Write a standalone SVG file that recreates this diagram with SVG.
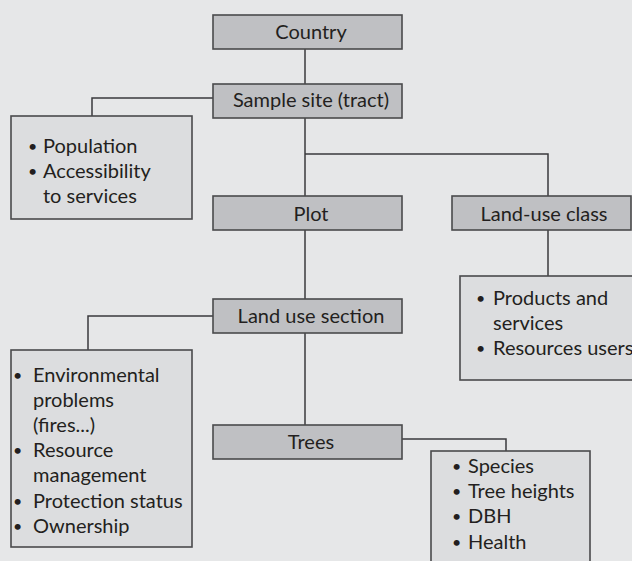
<svg xmlns="http://www.w3.org/2000/svg" width="632" height="561" viewBox="0 0 632 561">
<style>
.bg{fill:#e6e7e8}
.hd{fill:#bfc0c3;stroke:#4a4a4c;stroke-width:1.6}
.bx{fill:#dcdddf;stroke:#4a4a4c;stroke-width:1.6}
.ln{fill:none;stroke:#3a3a3c;stroke-width:1.5}
text{font-family:"Lato","Open Sans","Liberation Sans",sans-serif;font-size:20px;fill:#231f20}
.c{text-anchor:middle}
.b{font-size:16px}
</style>
<rect class="bg" x="0" y="0" width="632" height="561"/>
<g id="connectors">
<path class="ln" d="M305,49V84"/>
<path class="ln" d="M305,118V196"/>
<path class="ln" d="M305,154H548V196"/>
<path class="ln" d="M213,98H92V116"/>
<path class="ln" d="M548,230V276"/>
<path class="ln" d="M305,230V299"/>
<path class="ln" d="M213,316H88V350"/>
<path class="ln" d="M305,333V425"/>
<path class="ln" d="M402,439H506V451"/>
</g>
<g id="country"><rect class="hd" x="213" y="15" width="189" height="34"/><text class="c" x="311" y="39">Country</text></g>
<g id="sample-site"><rect class="hd" x="213" y="84" width="189" height="34"/><text class="c" x="311" y="107">Sample site (tract)</text></g>
<g id="population"><rect class="bx" x="11" y="116" width="181" height="103"/>
<text class="b" x="28" y="152">•</text><text x="43" y="153">Population</text>
<text class="b" x="28" y="177">•</text><text x="43" y="178">Accessibility</text>
<text x="43" y="203">to services</text></g>
<g id="plot"><rect class="hd" x="213" y="196" width="189" height="34"/><text class="c" x="311" y="221">Plot</text></g>
<g id="land-use-class"><rect class="hd" x="452" y="196" width="179" height="34"/><text class="c" x="544" y="221">Land-use class</text></g>
<g id="products"><rect class="bx" x="460" y="276" width="190" height="104"/>
<text class="b" x="476" y="304">•</text><text x="493" y="305">Products and</text>
<text x="493" y="330">services</text>
<text class="b" x="476" y="354">•</text><text x="493" y="355">Resources users</text></g>
<g id="land-use-section"><rect class="hd" x="213" y="299" width="189" height="34"/><text class="c" x="311" y="323">Land use section</text></g>
<g id="environment"><rect class="bx" x="11" y="350" width="181" height="197"/>
<text class="b" x="13" y="381">•</text><text x="33" y="382">Environmental</text>
<text x="33" y="407">problems</text>
<text x="33" y="432">(fires...)</text>
<text class="b" x="13" y="456">•</text><text x="33" y="457">Resource</text>
<text x="33" y="482">management</text>
<text class="b" x="13" y="507">•</text><text x="33" y="508">Protection status</text>
<text class="b" x="13" y="532">•</text><text x="33" y="533">Ownership</text></g>
<g id="trees"><rect class="hd" x="213" y="425" width="189" height="34"/><text class="c" x="311" y="449">Trees</text></g>
<g id="tree-attributes"><rect class="bx" x="431" y="451" width="159" height="130"/>
<text class="b" x="452" y="472">•</text><text x="468" y="473">Species</text>
<text class="b" x="452" y="497">•</text><text x="468" y="498">Tree heights</text>
<text class="b" x="452" y="522">•</text><text x="468" y="523">DBH</text>
<text class="b" x="452" y="548">•</text><text x="468" y="549">Health</text></g>
</svg>
